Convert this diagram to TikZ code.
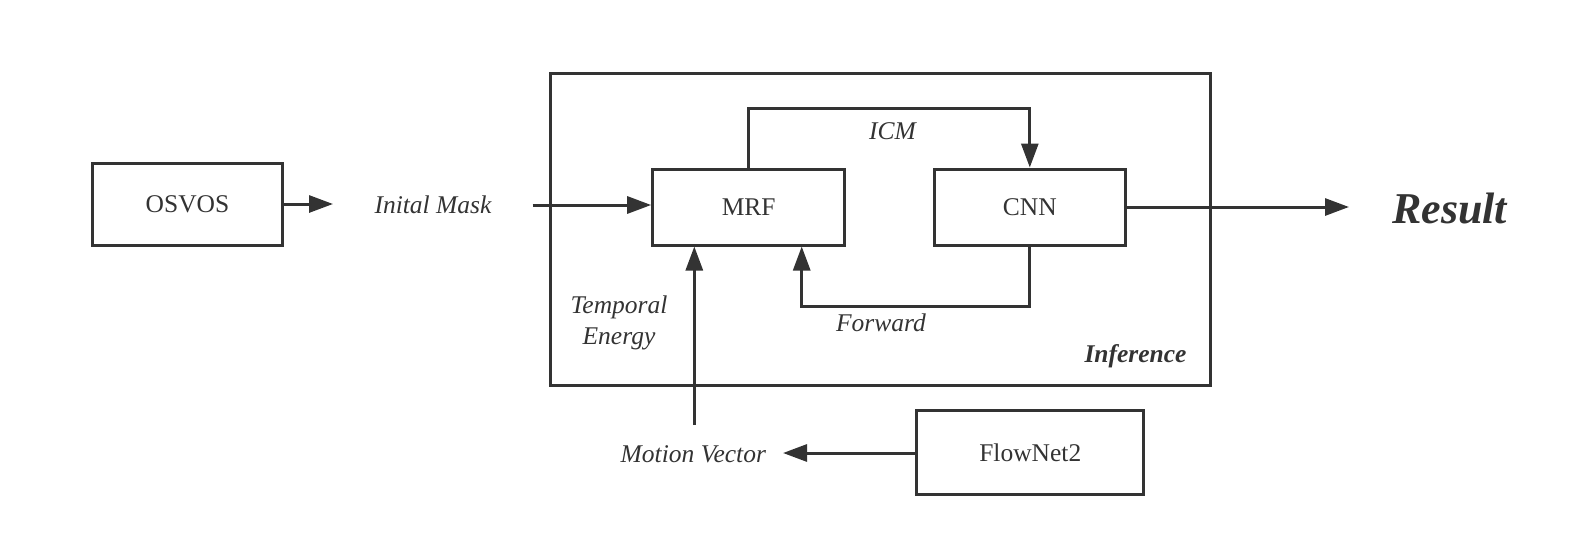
\documentclass[tikz,border=0pt]{standalone}
\usepackage{fontspec}
\setmainfont{Liberation Serif}
\usetikzlibrary{arrows.meta,calc}
\definecolor{ink}{HTML}{333333}
\tikzset{
  box/.style={draw=ink, line width=3pt, text=ink, inner sep=0pt, font=\fontsize{25.5}{31}\selectfont},
  lbl/.style={text=ink, inner sep=0pt, font=\fontsize{25.5}{31}\selectfont\itshape, align=center},
  conn/.style={draw=ink, line width=3pt},
  arr/.style={conn, -{Triangle[length=24pt,width=17pt]}},
}
\begin{document}
\begin{tikzpicture}[x=1pt,y=-1pt]
\useasboundingbox (0,0) rectangle (1594,554);
% container
\node[box, minimum width=660, minimum height=312] (infer) at (880,229) {};
\node[lbl, font=\fontsize{25.5}{31}\selectfont\bfseries\itshape] (inflbl) at (1135.5,356) {Inference};
% boxes
\node[box, minimum width=190, minimum height=82] (osvos) at (187.5,204) {OSVOS};
\node[box, minimum width=192, minimum height=76] (mrf) at (748.7,207) {MRF};
\node[box, minimum width=191, minimum height=76] (cnn) at (1029.8,207) {CNN};
\node[box, minimum width=227, minimum height=84] (flow) at (1030.3,452.8) {FlowNet2};
% labels
\node[lbl, inner xsep=41pt] (mask) at (433,205) {Inital Mask};
\node[lbl] (icm) at (892.6,131) {ICM};
\node[lbl] (fwd) at (881,323) {Forward};
\node[lbl] (temp) at (619,323) {Temporal\\Energy};
\node[lbl] (mv) at (693.3,454) {Motion Vector};
\node[lbl, font=\fontsize{44}{50}\selectfont\bfseries\itshape] (res) at (1449.7,208) {Result};
% free ends
\coordinate (masktip) at (333,204);
\coordinate (mvtop) at (694.3,425);
\coordinate (mvtip) at (783,453);
\coordinate (restip) at (1349,207);
% connectors
\draw[arr] (osvos.east |- masktip) -- (masktip);
\draw[arr] (mask.east) -- (mrf.west |- mask.east);
\draw[arr] (mrf.north) -- ++(0,-59) -| (cnn.north);
\draw[arr] (cnn.south) -- ++(0,60) -| ([xshift=53pt]mrf.south);
\draw[arr] (mvtop) -- (mvtop |- mrf.south);
\draw[arr] (flow.west |- mvtip) -- (mvtip);
\draw[arr] (cnn.east) -- (restip);
\end{tikzpicture}
\end{document}
